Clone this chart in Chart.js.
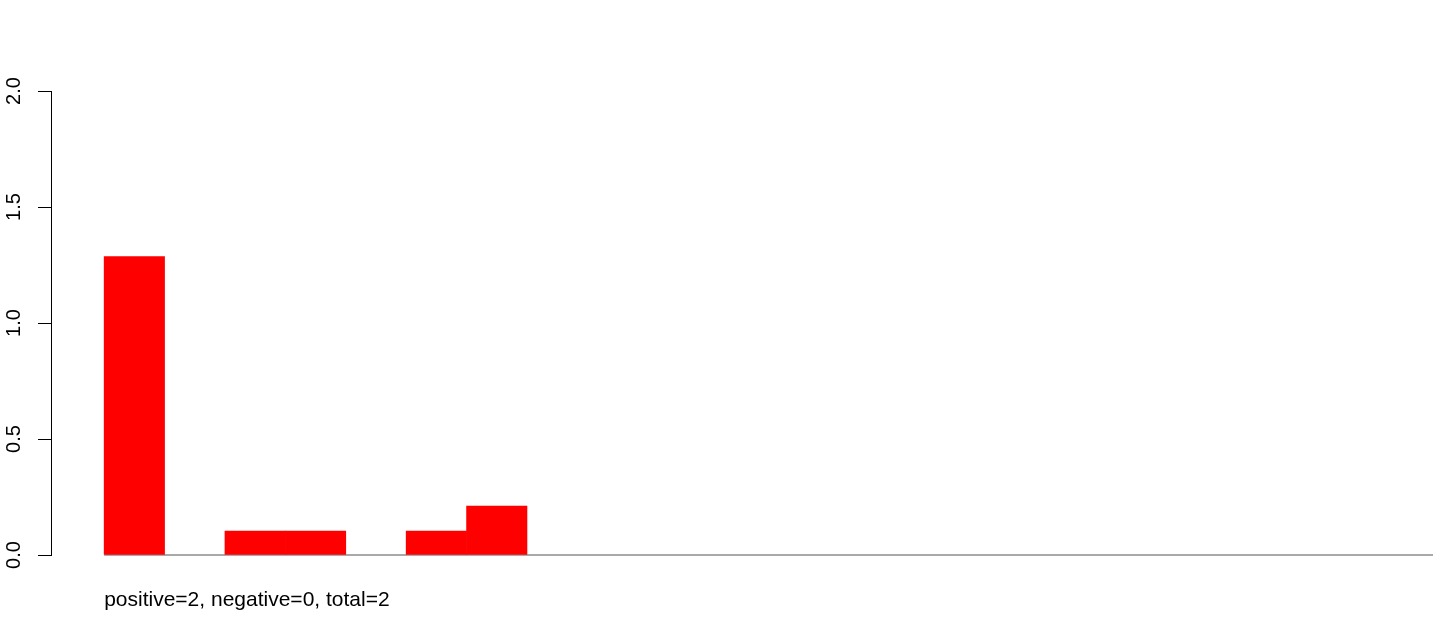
<!DOCTYPE html>
<html><head><meta charset="utf-8">
<script src="https://cdn.jsdelivr.net/npm/chart.js@4"></script>
<style>html,body{margin:0;padding:0;background:#fff}#wrap{width:1444px;height:617px}</style>
</head><body><div id="wrap"><canvas id="c" width="1444" height="617"></canvas></div>
<script>
// bin positions (bar centres, in bar units) and heights
const binCenters = [0.5,1.5,2.5,3.5,4.5,5.5,6.5,7.5,8.5,9.5,10.5,11.5,12.5,13.5,14.5,15.5,16.5,17.5,18.5,19.5,20.5,21.5];
const barValues  = [1.286,0,0.103,0.103,0,0.103,0.211,0,0,0,0,0,0,0,0,0,0,0,0,0,0,0];
const baselineX  = [0, 22];
const baselineY  = [0, 0];
const yTicks     = [0, 0.5, 1, 1.5, 2];
const subText    = 'positive=2, negative=0, total=2';

const FONT = '"Liberation Sans", Arial, sans-serif';

const subPlugin = {
  id: 'subText',
  afterDraw(chart) {
    const ctx = chart.ctx;
    const xs = chart.scales.x;
    ctx.save();
    ctx.font = '21px ' + FONT;
    ctx.fillStyle = '#000';
    ctx.textAlign = 'left';
    ctx.textBaseline = 'middle';
    ctx.fillText(subText, xs.getPixelForValue(0), 600);
    ctx.restore();
  }
};

new Chart(document.getElementById('c'), {
  data: {
    datasets: [
      {
        type: 'bar',
        data: binCenters.map((x, i) => ({x: x, y: barValues[i]})),
        backgroundColor: '#FF0000',
        borderWidth: 0,
        barPercentage: 1,
        categoryPercentage: 1,
        inflateAmount: (c) => (c.raw && c.raw.y === 0) ? 0 : 0.33,
        order: 1
      },
      {
        type: 'line',
        data: baselineX.map((x, i) => ({x: x, y: baselineY[i]})),
        borderColor: '#555555',
        borderWidth: 1.2,
        pointRadius: 0,
        clip: false,
        order: 2
      }
    ]
  },
  options: {
    responsive: false,
    animation: false,
    events: [],
    layout: { padding: { top: 91, bottom: 62, left: 0, right: 11 } },
    plugins: { legend: { display: false }, tooltip: { enabled: false } },
    scales: {
      x: {
        type: 'linear',
        min: -0.88,
        max: 22,
        offset: false,
        display: false
      },
      y: {
        type: 'linear',
        position: 'left',
        min: 0,
        max: 2,
        afterBuildTicks: (s) => { s.ticks = yTicks.map(v => ({value: v})); },
        afterFit: (s) => { s.width = 51; },
        ticks: {
          callback: (v) => Number(v).toFixed(1),
          minRotation: 90,
          maxRotation: 90,
          crossAlign: 'center',
          padding: 10,
          color: '#000',
          font: { family: FONT, size: 20 }
        },
        grid: {
          drawOnChartArea: false,
          drawTicks: true,
          tickLength: 13,
          color: '#000',
          lineWidth: 1
        },
        border: { display: true, color: '#000', width: 1 }
      }
    }
  },
  plugins: [subPlugin]
});
</script>
</body></html>
